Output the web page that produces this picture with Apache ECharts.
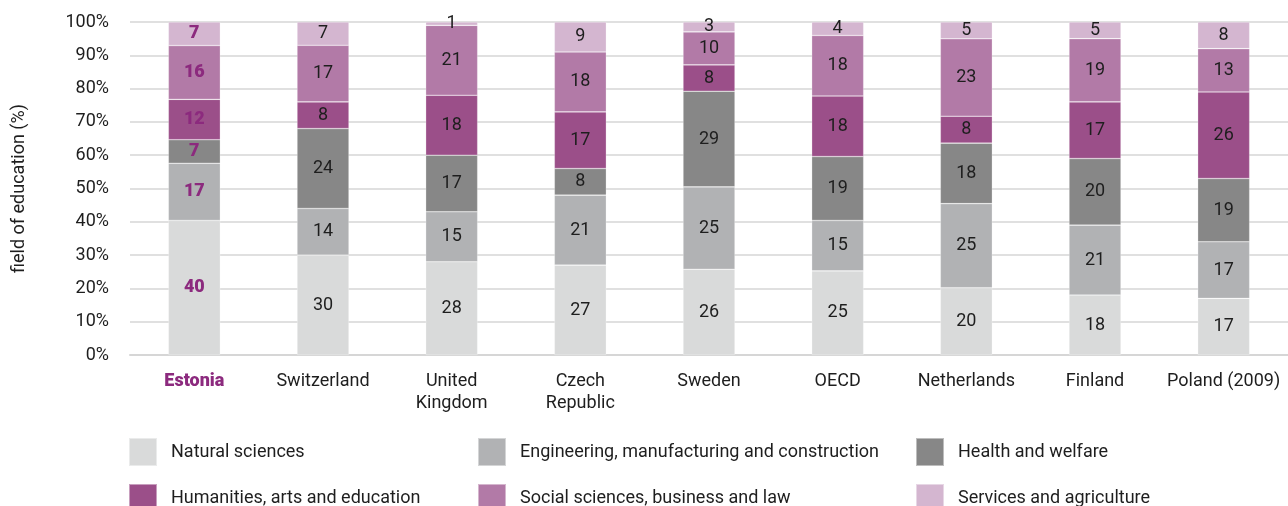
<!DOCTYPE html>
<html>
<head>
<meta charset="utf-8">
<title>Field of education</title>
<script src="https://cdn.jsdelivr.net/npm/echarts@6/dist/echarts.min.js"></script>
<style>
  html, body { margin: 0; padding: 0; background: #ffffff; }
  #chart { width: 1288px; height: 506px; }
</style>
</head>
<body>
<div id="chart"></div>
<script>
// Countries shown on the x axis
const countries = ['Estonia', 'Switzerland', 'United\nKingdom', 'Czech\nRepublic', 'Sweden', 'OECD', 'Netherlands', 'Finland', 'Poland (2009)'];

// Share of graduates by field of education (%), one array per field
const naturalSciences = [40, 30, 28, 27, 26, 25, 20, 18, 17];
const engineering     = [17, 14, 15, 21, 25, 15, 25, 21, 17];
const healthWelfare   = [ 7, 24, 17,  8, 29, 19, 18, 20, 19];
const humanities      = [12,  8, 18, 17,  8, 18,  8, 17, 26];
const socialSciences  = [16, 17, 21, 18, 10, 18, 23, 19, 13];
const services        = [ 7,  7,  1,  9,  3,  4,  5,  5,  8];

const fieldNames = [
  'Natural sciences',
  'Engineering, manufacturing and construction',
  'Health and welfare',
  'Humanities, arts and education',
  'Social sciences, business and law',
  'Services and agriculture'
];
const fieldValues = [naturalSciences, engineering, healthWelfare, humanities, socialSciences, services];
const fieldColors = ['#d9dada', '#b1b2b4', '#878787', '#9b4f89', '#b27aa7', '#d4b6d0'];

const yTicks = [0, 10, 20, 30, 40, 50, 60, 70, 80, 90, 100];

const highlight = 'Estonia';
const accent = '#8c2a7e';
const font = 'Roboto, "Noto Sans", sans-serif';
const fontSize = 18;

// Each bar is stacked to 100%: the totals of the stated shares are normalised
const totals = countries.map((_, i) => fieldValues.reduce((s, arr) => s + arr[i], 0));

const series = fieldValues.map((vals, k) => ({
  name: fieldNames[k],
  type: 'bar',
  stack: 'total',
  barWidth: 52,
  itemStyle: { color: fieldColors[k], borderColor: 'rgba(255,255,255,0.45)', borderWidth: 0.6 },
  label: {
    show: true,
    position: 'inside',
    fontFamily: font,
    fontSize: fontSize,
    color: '#1e1e1e',
    formatter: p => String(vals[p.dataIndex])
  },
  data: vals.map((v, i) => {
    const item = { value: v / totals[i] * 100 };
    if (countries[i] === highlight) {
      item.label = { color: accent, fontWeight: 900 };
    }
    return item;
  })
}));

// Legend: three columns, two rows, one legend block per entry
const legendColumnsX = [128, 477, 915];
const legendRowsY = [437, 483];
const legendTextStyle = { fontFamily: font, fontSize: fontSize, color: '#1e1e1e', padding: [0, 0, 0, 9] };
const legends = fieldNames.map((name, k) => ({
  data: [name],
  left: legendColumnsX[k % 3],
  top: legendRowsY[Math.floor(k / 3)],
  padding: 0,
  itemWidth: 28,
  itemHeight: 28,
  icon: 'rect',
  selectedMode: false,
  textStyle: legendTextStyle
}));

const chart = echarts.init(document.getElementById('chart'), null, { renderer: 'canvas' });
chart.setOption({
  backgroundColor: '#ffffff',
  animation: false,
  grid: { left: 130, top: 22, width: 1163, height: 333, containLabel: false },
  legend: legends,
  xAxis: {
    type: 'category',
    data: countries,
    axisTick: { show: false },
    axisLine: { show: true, lineStyle: { color: '#d6d6d6', width: 2 } },
    axisLabel: {
      margin: 15,
      fontFamily: font,
      fontSize: fontSize,
      lineHeight: 22,
      color: '#1e1e1e',
      interval: 0,
      formatter: v => v === highlight ? '{hi|' + v + '}' : v,
      rich: {
        hi: { fontFamily: font, fontSize: fontSize, fontWeight: 900, color: accent }
      }
    }
  },
  yAxis: {
    type: 'value',
    min: yTicks[0],
    max: yTicks[yTicks.length - 1],
    interval: yTicks[1] - yTicks[0],
    name: 'field of education (%)',
    nameLocation: 'middle',
    nameGap: 102,
    nameTextStyle: { fontFamily: font, fontSize: fontSize, color: '#1e1e1e' },
    axisLine: { show: false },
    axisTick: { show: false },
    splitLine: { lineStyle: { color: '#d6d6d6', width: 1.5 } },
    axisLabel: {
      margin: 21,
      fontFamily: font,
      fontSize: fontSize,
      color: '#1e1e1e',
      formatter: '{value}%'
    }
  },
  series: series
});
</script>
</body>
</html>
